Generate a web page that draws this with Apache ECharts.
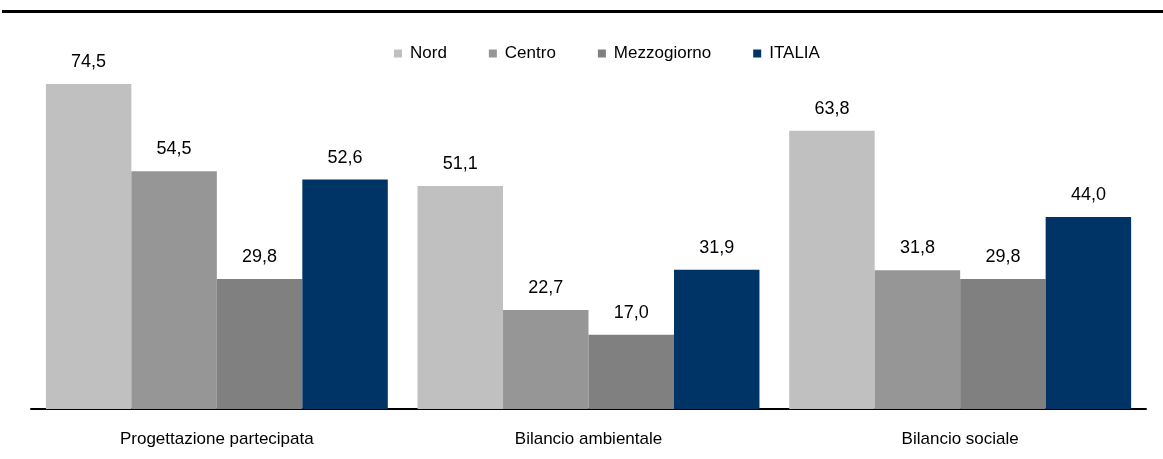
<!DOCTYPE html>
<html><head><meta charset="utf-8">
<script src="https://cdn.jsdelivr.net/npm/echarts@6/dist/echarts.min.js"></script>
<style>html,body{margin:0;padding:0;background:#fff}#c{width:1163px;height:459px}</style>
</head><body><div id="c"></div>
<script>
const categories = ['Progettazione partecipata', 'Bilancio ambientale', 'Bilancio sociale'];
const seriesNames = ['Nord', 'Centro', 'Mezzogiorno', 'ITALIA'];
const nord = [74.5, 51.1, 63.8];
const centro = [54.5, 22.7, 31.8];
const mezzogiorno = [29.8, 17.0, 29.8];
const italia = [52.6, 31.9, 44.0];
const colors = ['#c0c0c0', '#969696', '#808080', '#003366'];
const values = [nord, centro, mezzogiorno, italia];
const font = 'Liberation Sans, Arial, sans-serif';
const chart = echarts.init(document.getElementById('c'), null, {renderer: 'canvas'});
chart.setOption({
  animation: false,
  textStyle: {fontFamily: font},
  graphic: [{type: 'rect', shape: {x: 2, y: 10, width: 1161, height: 3}, style: {fill: '#000'}}],
  legend: {
    left: 389, top: 40, itemWidth: 8, itemHeight: 8, itemGap: 42,
    icon: 'rect',
    textStyle: {fontSize: 17, color: '#000', fontFamily: font, padding: [0, 0, 0, 3]},
    data: seriesNames
  },
  grid: {left: 31, right: 17, top: 60, bottom: 50},
  xAxis: {
    type: 'category', data: categories,
    axisLine: {lineStyle: {color: '#000', width: 2}},
    axisTick: {show: false},
    axisLabel: {fontSize: 17, color: '#000', margin: 22, fontFamily: font}
  },
  yAxis: {type: 'value', min: 0, max: 80, show: false, splitLine: {show: false}},
  series: seriesNames.map((n, i) => ({
    name: n, type: 'bar', data: values[i],
    barGap: '0%', barCategoryGap: '8%',
    itemStyle: {color: colors[i]},
    label: {
      show: true, position: 'top', distance: 13, fontSize: 18, color: '#000', fontFamily: font,
      formatter: p => p.value.toFixed(1).replace('.', ',')
    }
  }))
});
</script></body></html>
